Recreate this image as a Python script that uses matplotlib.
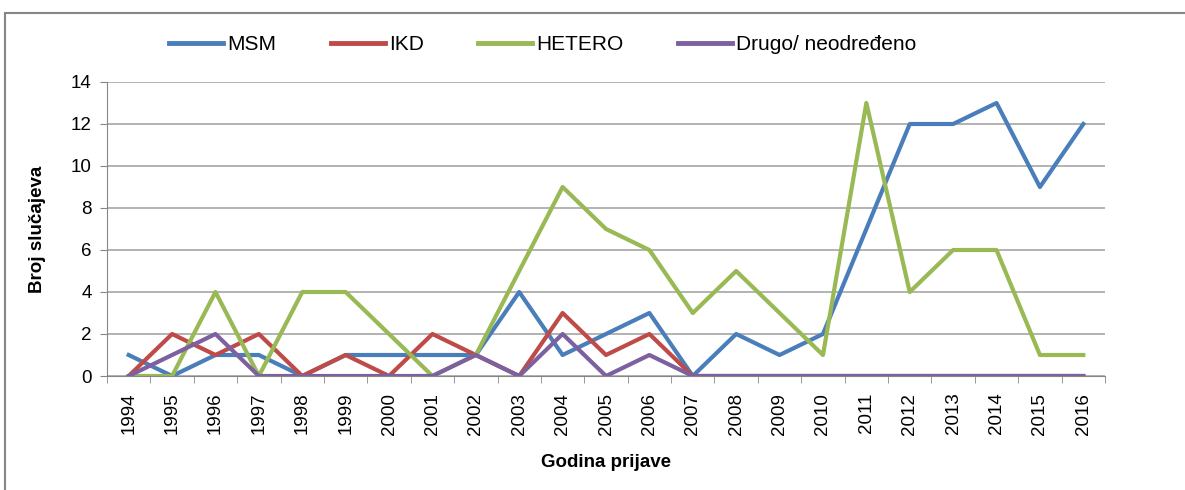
import matplotlib
matplotlib.use("Agg")
from matplotlib import pyplot as plt
from matplotlib.patches import Rectangle
import numpy as np

years = [str(y) for y in range(1994, 2017)]
msm = [1, 0, 1, 1, 0, 1, 1, 1, 1, 4, 1, 2, 3, 0, 2, 1, 2, 7, 12, 12, 13, 9, 12]
ikd = [0, 2, 1, 2, 0, 1, 0, 2, 1, 0, 3, 1, 2, 0, 0, 0, 0, 0, 0, 0, 0, 0, 0]
hetero = [0, 0, 4, 0, 4, 4, 2, 0, 1, 5, 9, 7, 6, 3, 5, 3, 1, 13, 4, 6, 6, 1, 1]
drugo = [0, 1, 2, 0, 0, 0, 0, 0, 1, 0, 2, 0, 1, 0, 0, 0, 0, 0, 0, 0, 0, 0, 0]

series = [("MSM", msm, "#4a7ebb"), ("IKD", ikd, "#be4b48"),
          ("HETERO", hetero, "#98b954"), ("Drugo/ neodređeno", drugo, "#7d60a0")]

plt.rcParams['font.family'] = ['Liberation Sans', 'DejaVu Sans']

fig = plt.figure(figsize=(11.85, 4.9), dpi=100)
ax = fig.add_axes([107/1185, 1 - 376/490, (1105-107)/1185, (376-82)/490])

x = np.arange(len(years))
for name, vals, col in series:
    ax.plot(x, vals, color=col, lw=3.0, label=name)

ax.set_xlim(-0.5, len(years) - 0.5)
ax.set_ylim(0, 14)
ax.set_yticks(range(0, 15, 2))
ax.set_xticks(x)
ax.set_xticklabels(years, rotation=90, fontsize=13.5)
ax.set_xticks(np.arange(-0.5, len(years), 1), minor=True)
ax.tick_params(axis='x', which='major', length=0, pad=12)
ax.tick_params(axis='x', which='minor', length=5, color='#868686')
ax.tick_params(axis='y', length=5, color='#868686', labelsize=13.5, direction='out', pad=6)
ax.grid(axis='y', color='#a6a6a6', lw=1.2)
ax.set_axisbelow(True)
for s in ['top', 'right']:
    ax.spines[s].set_visible(False)
ax.spines['left'].set_color('#868686')
ax.spines['bottom'].set_color('#868686')

ax.set_ylabel("Broj slučajeva", fontsize=13.5, fontweight='bold', labelpad=18)
ax.set_xlabel("Godina prijave", fontsize=13.5, fontweight='bold', labelpad=14)

leg = fig.legend(loc='center', bbox_to_anchor=(0.458, 1 - 45/490), ncol=4, frameon=False,
                 fontsize=15, handlelength=2.6, columnspacing=2.6, handletextpad=0.2)
for h in leg.legend_handles:
    h.set_linewidth(3.5)

fig.patches.append(Rectangle((5/1185, -0.1), 1.2, 1 - 13/490 + 0.1, transform=fig.transFigure,
                             fill=False, edgecolor='#868686', lw=1.5))

fig.savefig("out.png", dpi=100)
